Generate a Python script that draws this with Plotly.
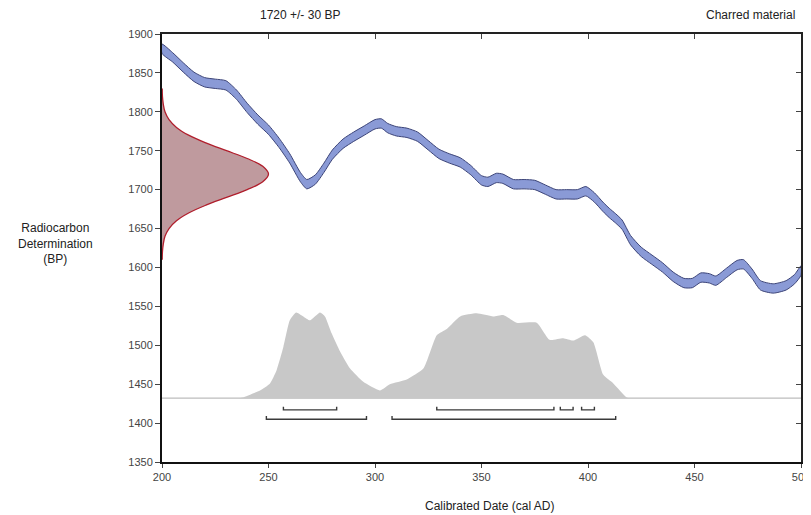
import plotly.graph_objects as go

# ---- Calibration curve (cal AD year, BP centre) ----
curve_year = [200, 205, 210, 215, 220, 225, 230, 235, 240, 245, 250, 255, 260, 265, 268,
              272, 276, 280, 285, 290, 295, 300, 303, 306, 310, 315, 320, 325, 330, 335,
              340, 345, 350, 353, 357, 360, 365, 370, 375, 380, 385, 390, 395, 399, 403,
              407, 410, 413, 416, 420, 425, 430, 435, 440, 445, 449, 453, 457, 460, 465,
              470, 473, 477, 481, 487, 493, 497, 500]
curve_bp = [1881, 1870, 1857, 1845, 1838, 1836, 1834, 1822, 1805, 1790, 1777, 1760, 1740, 1716, 1707,
            1713, 1728, 1745, 1759, 1768, 1776, 1784, 1785, 1779, 1775, 1773, 1768, 1757, 1746, 1740,
            1735, 1725, 1712, 1710, 1715, 1714, 1707, 1707, 1706, 1700, 1694, 1694, 1694, 1698, 1690,
            1678, 1670, 1663, 1655, 1635, 1620, 1610, 1600, 1588, 1580, 1580, 1587, 1586, 1583, 1593,
            1603, 1604, 1592, 1577, 1573, 1577, 1585, 1596]
curve_halfwidth = 6

# ---- Radiocarbon determination (BP value, horizontal extent in years) ----
det_bp = [1830, 1820, 1810, 1800, 1790, 1780, 1770, 1760, 1750, 1740, 1730, 1720,
          1710, 1700, 1690, 1680, 1670, 1660, 1650, 1640, 1630, 1620, 1610]
det_ext = [0.1, 0.2, 0.6, 1.4, 3.3, 6.8, 12.5, 20.6, 30.3, 40.0, 47.3, 50.0,
           47.3, 40.0, 30.3, 20.6, 12.5, 6.8, 3.3, 1.4, 0.6, 0.2, 0.1]

# ---- Calibrated probability distribution (year, height above baseline) ----
prob_year = [236, 238, 246, 250.7, 253.8, 257, 260, 263, 266.3, 269.5, 274.2, 276.5, 279.7,
             283.6, 288.3, 294.5, 302.3, 307, 314.9, 322.7, 329, 333.7, 340, 347.7, 355.5,
             360.2, 366.5, 375.9, 382, 388.4, 393, 398.6, 402.5, 407.2, 411.9, 418.2, 420]
prob_h = [0, 1, 10, 19, 36, 66, 100, 110, 105, 100, 110, 105, 83,
          60, 38, 21, 10, 18, 24, 38, 81, 89, 105, 109, 105,
          107, 97, 97, 75, 77, 74, 81, 72, 30, 19, 1, 0]
prob_base = 1432

# ---- Calibrated ranges ----
range68 = [(257, 282), (329, 384), (387, 393), (397, 403)]
range95 = [(249, 296), (308, 413)]
row68_bp = 1417
row95_bp = 1405
bracket_tick = 4

x_ticks = [200, 250, 300, 350, 400, 450, 500]
y_ticks = [1350, 1400, 1450, 1500, 1550, 1600, 1650, 1700, 1750, 1800, 1850, 1900]

font = "Liberation Sans, Arial, sans-serif"
fig = go.Figure()

# baseline
fig.add_trace(go.Scatter(x=[200, 500], y=[prob_base, prob_base], mode="lines",
                         line=dict(color="#bdbdbd", width=1.2), hoverinfo="skip"))
# probability distribution
fig.add_trace(go.Scatter(x=prob_year, y=[prob_base + h for h in prob_h], mode="lines",
                         fill="toself", fillcolor="#c8c8c8",
                         line=dict(width=0, color="#c8c8c8", shape="spline", smoothing=0.5),
                         hoverinfo="skip"))

# calibration curve band
upper = [b + curve_halfwidth for b in curve_bp]
lower = [b - curve_halfwidth for b in curve_bp]
fig.add_trace(go.Scatter(x=curve_year + curve_year[::-1] + [curve_year[0]],
                         y=upper + lower[::-1] + [upper[0]],
                         mode="lines", fill="toself", fillcolor="#8a9ad6",
                         line=dict(color="#3c4478", width=1, shape="spline", smoothing=0.6),
                         hoverinfo="skip"))

# determination
fig.add_trace(go.Scatter(x=[200 + e for e in det_ext], y=det_bp, mode="lines",
                         fill="tozerox", fillcolor="#bf9a9e",
                         line=dict(color="#b01e2c", width=1.3, shape="spline"),
                         hoverinfo="skip"))

# brackets
def bracket_xy(ranges, ybp):
    xs, ys = [], []
    for a, b in ranges:
        xs += [a, a, b, b, None]
        ys += [ybp + bracket_tick, ybp, ybp, ybp + bracket_tick, None]
    return xs, ys

for rng, row in [(range68, row68_bp), (range95, row95_bp)]:
    bx, by = bracket_xy(rng, row)
    fig.add_trace(go.Scatter(x=bx, y=by, mode="lines",
                             line=dict(color="#3a3a3a", width=1.4), hoverinfo="skip"))

# hidden trace for mirrored axes
fig.add_trace(go.Scatter(x=[200, 500], y=[1350, 1900], xaxis="x2", yaxis="y2",
                         mode="markers", marker=dict(opacity=0), hoverinfo="skip"))

# the page body has an 8px margin, so the figure is sized/offset accordingly
fig.update_layout(
    width=803, height=507,
    margin=dict(l=154, r=10, t=26, b=53, autoexpand=False),
    paper_bgcolor="white", plot_bgcolor="white",
    showlegend=False,
    font=dict(family=font, color="#333333", size=11),
    xaxis=dict(range=[200, 500], tickvals=x_ticks, ticks="outside", ticklen=4,
               tickcolor="#444", showgrid=False, zeroline=False, automargin=False,
               showline=True, linecolor="#111", linewidth=2,
               tickfont=dict(size=11, color="#444")),
    yaxis=dict(range=[1350, 1900], tickvals=y_ticks, ticks="outside", ticklen=5,
               tickcolor="#444", showgrid=False, zeroline=False, automargin=False,
               showline=True, linecolor="#111", linewidth=2,
               tickfont=dict(size=11, color="#444")),
    xaxis2=dict(range=[200, 500], overlaying="x", side="top", tickvals=x_ticks[1:-1],
                ticks="inside", ticklen=5, tickcolor="#444", showticklabels=False, automargin=False,
                showgrid=False, zeroline=False, showline=True, linecolor="#222", linewidth=1.5),
    yaxis2=dict(range=[1350, 1900], overlaying="y", side="right", tickvals=y_ticks[1:-1],
                ticks="inside", ticklen=5, tickcolor="#444", showticklabels=False, automargin=False,
                showgrid=False, zeroline=False, showline=True, linecolor="#222", linewidth=1.5),
    annotations=[
        dict(text="1720 +/- 30 BP", x=0.216, y=1.044, xref="paper", yref="paper",
             showarrow=False, xanchor="center", yanchor="middle",
             font=dict(size=12, color="#222")),
        dict(text="Charred material", x=0.994, y=1.044, xref="paper", yref="paper",
             showarrow=False, xanchor="right", yanchor="middle",
             font=dict(size=12, color="#222")),
        dict(text="Radiocarbon<br>Determination<br>(BP)", x=-0.167, y=0.511,
             xref="paper", yref="paper", showarrow=False, xanchor="center", yanchor="middle",
             align="center", font=dict(size=12, color="#222")),
        dict(text="Calibrated Date (cal AD)", x=0.512, y=-0.103, xref="paper", yref="paper",
             showarrow=False, xanchor="center", yanchor="middle",
             font=dict(size=12, color="#222")),
    ],
)

fig.write_html("out.html")
